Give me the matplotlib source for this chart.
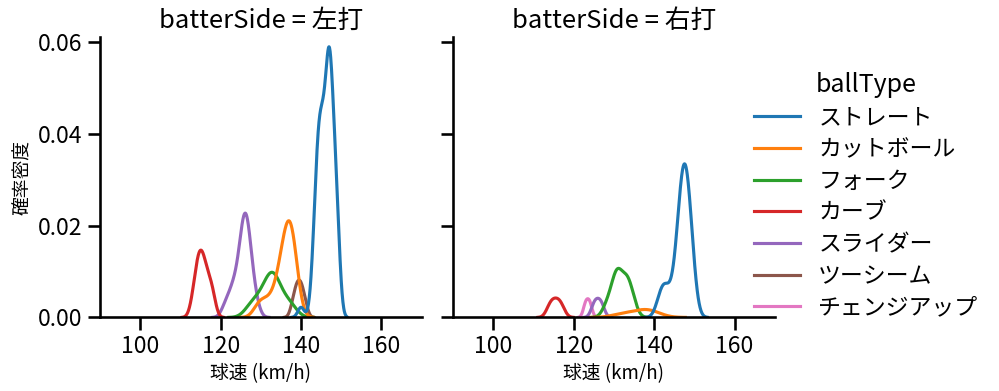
import numpy as np
import pandas as pd
import matplotlib
matplotlib.use("Agg")
import matplotlib.pyplot as plt
from matplotlib.lines import Line2D
import seaborn as sns

ball_types = ["ストレート", "カットボール", "フォーク", "カーブ", "スライダー", "ツーシーム", "チェンジアップ"]
sides = ["左打", "右打"]

# ── pitch counts per speed (km/h), vs left-handed batters ──────────────────
l_straight_kmh = [140, 143, 144, 145, 146, 147, 148, 149]
l_straight_n = [1, 3, 10, 11, 10, 17, 10, 7]
l_cut_kmh = [129, 130, 131, 132, 133, 134, 135, 136, 137, 138, 139]
l_cut_n = [1, 1, 1, 1, 1, 2, 3, 5, 6, 6, 2]
l_fork_kmh = [127, 128, 129, 130, 131, 132, 133, 134, 135, 136, 137, 138]
l_fork_n = [1, 1, 1, 1, 2, 2, 4, 2, 1, 1, 1, 1]
l_curve_kmh = [113, 114, 115, 116, 117, 118]
l_curve_n = [1, 3, 4, 3, 2, 2]
l_slider_kmh = [121, 122, 123, 124, 125, 126, 127, 128, 129]
l_slider_n = [1, 1, 2, 2, 4, 7, 5, 2, 1]
l_twoseam_kmh = [138, 139, 140, 141]
l_twoseam_n = [1, 2, 2, 1]

# ── vs right-handed batters ────────────────────────────────────────────────
r_straight_kmh = [141, 142, 143, 144, 145, 146, 147, 148, 149, 150]
r_straight_n = [1, 2, 2, 1, 2, 5, 9, 9, 6, 2]
r_cut_kmh = [132, 136, 138, 140]
r_cut_n = [1, 1, 1, 1]
r_fork_kmh = [128, 129, 130, 131, 132, 133, 134, 135]
r_fork_n = [1, 1, 2, 4, 1, 3, 2, 1]
r_curve_kmh = [114, 115, 116, 117]
r_curve_n = [1, 1, 1, 1]
r_slider_kmh = [125, 126, 127]
r_slider_n = [1, 1, 1]
r_change_kmh = [123, 124]
r_change_n = [1, 1]

groups = [
    ("左打", "ストレート", l_straight_kmh, l_straight_n),
    ("左打", "カットボール", l_cut_kmh, l_cut_n),
    ("左打", "フォーク", l_fork_kmh, l_fork_n),
    ("左打", "カーブ", l_curve_kmh, l_curve_n),
    ("左打", "スライダー", l_slider_kmh, l_slider_n),
    ("左打", "ツーシーム", l_twoseam_kmh, l_twoseam_n),
    ("右打", "ストレート", r_straight_kmh, r_straight_n),
    ("右打", "カットボール", r_cut_kmh, r_cut_n),
    ("右打", "フォーク", r_fork_kmh, r_fork_n),
    ("右打", "カーブ", r_curve_kmh, r_curve_n),
    ("右打", "スライダー", r_slider_kmh, r_slider_n),
    ("右打", "チェンジアップ", r_change_kmh, r_change_n),
]

frames = []
for side, ball, kmh, n in groups:
    speeds = np.repeat(kmh, n).astype(float)
    frames.append(pd.DataFrame({"batterSide": side, "ballType": ball, "球速 (km/h)": speeds}))
df = pd.concat(frames, ignore_index=True)

sns.set_context("talk")
plt.rcParams["font.family"] = ["Noto Sans CJK JP", "DejaVu Sans"]

palette = sns.color_palette("tab10", len(ball_types))

g = sns.displot(
    data=df, x="球速 (km/h)", hue="ballType", col="batterSide", kind="kde",
    hue_order=ball_types, col_order=sides, palette=palette, height=4, aspect=1,
    legend=False,
)
g.set_axis_labels("球速 (km/h)", "確率密度", fontsize=13.5)
g.set(xlim=(90, 170), ylim=(0, 0.0611), xticks=[100, 120, 140, 160])

fig = g.figure
fig.set_size_inches(9.99, 3.91)
ax_l, ax_r = g.axes.flat
ax_l.set_position([0.1001, 0.1882, 0.322, 0.718])
ax_r.set_position([0.4535, 0.1882, 0.322, 0.718])
ax_l.set_yticks([0.0, 0.02, 0.04, 0.06])
ax_l.set_yticklabels(["0.00", "0.02", "0.04", "0.06"])
for ax in (ax_l, ax_r):
    ax.title.set_fontsize(18.5)

handles = [Line2D([], [], color=c, lw=2.25) for c in palette]
fig.legend(
    handles, ball_types, title="ballType", loc="center right",
    bbox_to_anchor=(1.0, 0.5), frameon=False, labelspacing=0.38,
    fontsize=16.5, title_fontsize=18,
)

fig.savefig("out.png", dpi=100)
